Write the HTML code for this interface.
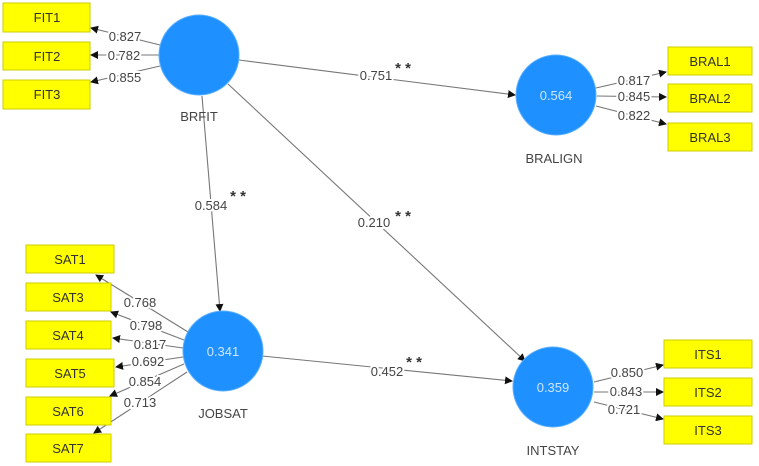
<!DOCTYPE html>
<html><head><meta charset="utf-8"><style>
html,body{margin:0;padding:0;background:#fff;}
svg{display:block;}
text{font-family:"Liberation Sans",sans-serif;}
.l{font-size:13px;fill:#444;stroke:#fff;stroke-width:4px;paint-order:stroke;text-anchor:middle;}
.b{font-size:13px;fill:#333;text-anchor:middle;}
.n{font-size:13px;fill:#444;text-anchor:middle;}
.c{font-size:13px;fill:#cfe6ff;text-anchor:middle;}
.s{font-size:15px;font-weight:bold;fill:#333;text-anchor:middle;}
</style></head><body>
<svg width="759" height="466" viewBox="0 0 759 466" xmlns="http://www.w3.org/2000/svg">
<defs><marker id="a" markerWidth="8" markerHeight="8" refX="7" refY="4" orient="auto" markerUnits="userSpaceOnUse"><path d="M0,0 L8,4 L0,8 z" fill="#111"/></marker></defs>
<g stroke="#777" stroke-width="1.1" fill="none" marker-end="url(#a)">
<line x1="239" y1="60" x2="515" y2="95"/>
<line x1="202" y1="96" x2="220" y2="311"/>
<line x1="228" y1="84" x2="525" y2="361"/>
<line x1="262" y1="356" x2="512" y2="381"/>
<line x1="160" y1="45" x2="91" y2="28"/>
<line x1="159" y1="55" x2="91" y2="55"/>
<line x1="160" y1="66" x2="91" y2="82"/>
<line x1="188" y1="332" x2="96" y2="275"/>
<line x1="184" y1="340" x2="111" y2="312"/>
<line x1="183" y1="348" x2="113" y2="338"/>
<line x1="183" y1="357" x2="116" y2="367"/>
<line x1="184" y1="364" x2="110" y2="396"/>
<line x1="187" y1="372" x2="94" y2="433"/>
<line x1="596" y1="88" x2="666" y2="72"/>
<line x1="597" y1="96" x2="666" y2="97"/>
<line x1="596" y1="106" x2="666" y2="124"/>
<line x1="594" y1="382" x2="663" y2="365"/>
<line x1="594" y1="392" x2="663" y2="392"/>
<line x1="594" y1="402" x2="663" y2="419"/>
</g>
<g fill="#1e90ff" stroke="#5ab0ff" stroke-width="1">
<circle cx="199" cy="55" r="40"/>
<circle cx="556" cy="95" r="40"/>
<circle cx="223" cy="351" r="40"/>
<circle cx="553" cy="387" r="40"/>
</g>
<text class="c" x="556" y="100">0.564</text>
<text class="c" x="223" y="356">0.341</text>
<text class="c" x="553" y="392">0.359</text>
<text class="n" x="199" y="121">BRFIT</text>
<text class="n" x="554" y="163">BRALIGN</text>
<text class="n" x="223" y="418">JOBSAT</text>
<text class="n" x="553" y="455">INTSTAY</text>
<g fill="#ffff00" stroke="#cccc00" stroke-width="1">
<rect x="3" y="3" width="87" height="29"/>
<rect x="3" y="42" width="87" height="28"/>
<rect x="3" y="80" width="87" height="29"/>
<rect x="26" y="245" width="88" height="28"/>
<rect x="26" y="283" width="85" height="28"/>
<rect x="26" y="321" width="85" height="28"/>
<rect x="26" y="359" width="88" height="28"/>
<rect x="26" y="397" width="85" height="28"/>
<rect x="26" y="434" width="85" height="28"/>
<rect x="668" y="47" width="84" height="28"/>
<rect x="668" y="84" width="84" height="28"/>
<rect x="668" y="123" width="84" height="28"/>
<rect x="664" y="340" width="88" height="28"/>
<rect x="664" y="378" width="88" height="28"/>
<rect x="664" y="416" width="88" height="28"/>
</g>
<g class="b">
<text x="47" y="22">FIT1</text><text x="47" y="61">FIT2</text><text x="47" y="99">FIT3</text>
<text x="70" y="264">SAT1</text><text x="68" y="302">SAT3</text><text x="68" y="340">SAT4</text>
<text x="70" y="378">SAT5</text><text x="68" y="416">SAT6</text><text x="68" y="453">SAT7</text>
<text x="710" y="66">BRAL1</text><text x="710" y="103">BRAL2</text><text x="710" y="142">BRAL3</text>
<text x="708" y="359">ITS1</text><text x="708" y="397">ITS2</text><text x="708" y="435">ITS3</text>
</g>
<g class="l">
<text x="376" y="80">0.751</text>
<text x="211" y="210">0.584</text>
<text x="374" y="227">0.210</text>
<text x="387" y="376">0.452</text>
<text x="125" y="41">0.827</text>
<text x="124" y="60">0.782</text>
<text x="125" y="82">0.855</text>
<text x="140" y="307">0.768</text>
<text x="146" y="330">0.798</text>
<text x="150" y="349">0.817</text>
<text x="148" y="366">0.692</text>
<text x="145" y="386">0.854</text>
<text x="140" y="407">0.713</text>
<text x="634" y="85">0.817</text>
<text x="634" y="101">0.845</text>
<text x="634" y="120">0.822</text>
<text x="627" y="377">0.850</text>
<text x="626" y="396">0.843</text>
<text x="624" y="414">0.721</text>
</g>
<g class="s">
<text x="403" y="73">* *</text>
<text x="238" y="201">* *</text>
<text x="403" y="221">* *</text>
<text x="414" y="367">* *</text>
</g>
</svg>
</body></html>
